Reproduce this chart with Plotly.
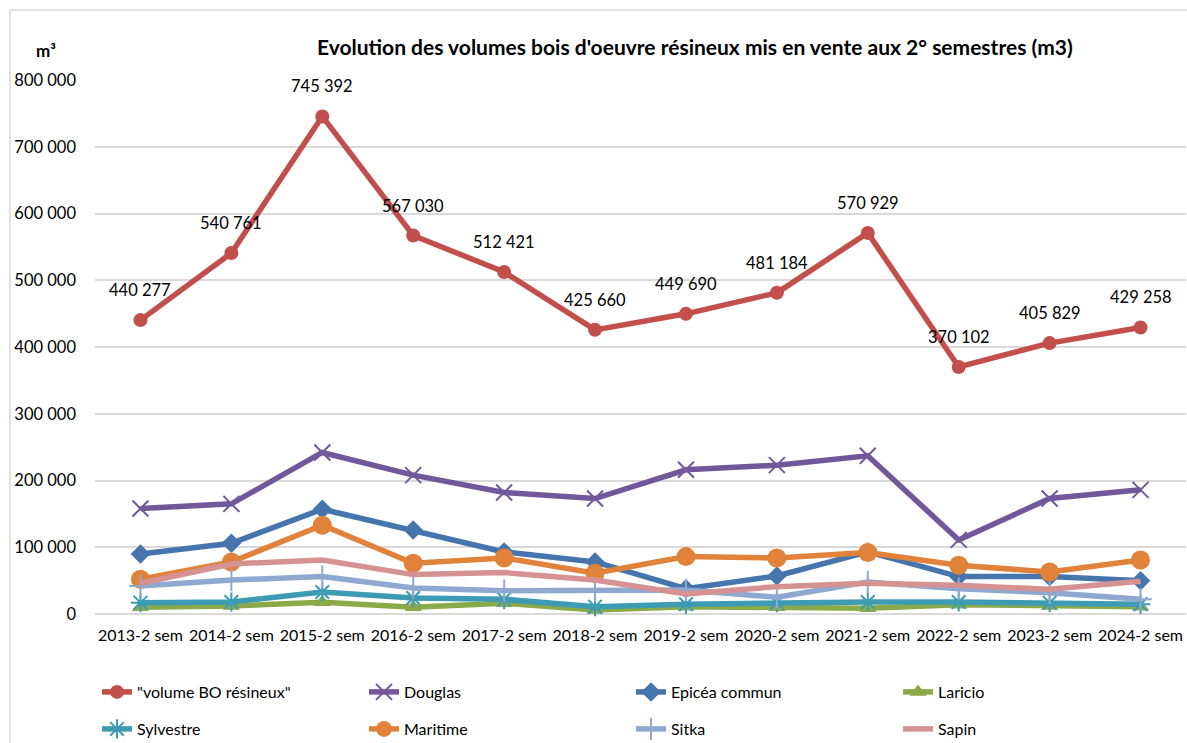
import plotly.graph_objects as go

categories = ["2013-2 sem", "2014-2 sem", "2015-2 sem", "2016-2 sem", "2017-2 sem", "2018-2 sem",
              "2019-2 sem", "2020-2 sem", "2021-2 sem", "2022-2 sem", "2023-2 sem", "2024-2 sem"]

volume_bo = [440277, 540761, 745392, 567030, 512421, 425660, 449690, 481184, 570929, 370102, 405829, 429258]
douglas = [158000, 165000, 242000, 208000, 182000, 173000, 216000, 223000, 237000, 111000, 173000, 186000]
epicea = [90000, 106000, 157000, 126000, 93000, 78000, 38000, 57000, 93000, 56000, 56000, 50000]
laricio = [10000, 12000, 17500, 10000, 16000, 6000, 11000, 10000, 8500, 14000, 12000, 11000]
sylvestre = [17000, 18000, 33000, 24000, 22000, 11000, 14500, 17000, 18000, 18000, 17000, 14500]
maritime = [52000, 78000, 133000, 76000, 84000, 61000, 86000, 84000, 92000, 73000, 63000, 81000]
sitka = [42000, 51000, 56000, 39000, 35000, 35000, 36000, 25000, 48000, 38000, 32000, 22000]
sapin = [46000, 75000, 81000, 59000, 62000, 51000, 30000, 41000, 46000, 43000, 37000, 49000]

series_names = ['"volume BO résineux"', "Douglas", "Epicéa commun", "Laricio",
                "Sylvestre", "Maritime", "Sitka", "Sapin"]
series_values = [volume_bo, douglas, epicea, laricio, sylvestre, maritime, sitka, sapin]
series_colors = ["#C24F4C", "#71589A", "#4674AC", "#8AAA4A", "#3D9BB3", "#E0823A", "#8FA8CF", "#D69293"]
series_symbols = ["circle", "x-thin-open", "diamond", "triangle-up", "asterisk-open", "circle",
                  "cross-thin-open", None]
series_sizes = [14, 16, 15, 15, 16, 19, 16, 0]

FONT = "Lato"
W, H = 1187, 743
ML, MR, MT, MB = 95, 1, 80, 129
PW = W - ML - MR
PH = H - MT - MB

fig = go.Figure()
for i, (name, vals, col, sym, sz) in enumerate(zip(series_names, series_values, series_colors,
                                                   series_symbols, series_sizes)):
    legend = "legend" if i < 4 else "legend2"
    if sym is None:
        mode = "lines"
        marker = None
    else:
        mode = "lines+markers"
        if sym.endswith("-open"):
            marker = dict(symbol=sym, size=sz, color=col, line=dict(color=col, width=2))
        else:
            marker = dict(symbol=sym, size=sz, color=col, line=dict(width=0))
    fig.add_trace(go.Scatter(
        x=categories, y=vals, name=name, mode=mode,
        line=dict(color=col, width=5.5),
        marker=marker, legend=legend, cliponaxis=False,
    ))

# data labels for total series
for c, v in zip(categories, volume_bo):
    fig.add_annotation(x=c, y=v, text=f"{v:,}".replace(",", " "), showarrow=False,
                       yshift=30, font=dict(family=FONT, size=16.5, color="#000000"))

# title and unit
fig.add_annotation(xref="paper", yref="paper", x=(695 - ML) / PW, y=(H - MB - 47) / PH,
                   text="<b>Evolution des volumes bois d'oeuvre résineux mis en vente aux 2° semestres (m3)</b>",
                   showarrow=False, font=dict(family=FONT, size=21, color="#000000"),
                   xanchor="center", yanchor="middle")
fig.add_annotation(xref="paper", yref="paper", x=(46 - ML) / PW, y=(H - MB - 50) / PH,
                   text="<b>m³</b>", showarrow=False, font=dict(family=FONT, size=17, color="#000000"),
                   xanchor="center", yanchor="middle")

# chart border
fig.add_shape(type="rect", xref="paper", yref="paper",
              x0=(10 - ML) / PW, x1=(1200 - ML) / PW,
              y0=(H - MB - 760) / PH, y1=(H - MB - 10) / PH,
              line=dict(color="#D9D9D9", width=1.5), fillcolor="rgba(0,0,0,0)", layer="below")

legend_common = dict(orientation="h", xref="container", yref="container", xanchor="left",
                     yanchor="middle", font=dict(family=FONT, size=16, color="#000000"),
                     entrywidth=222, entrywidthmode="pixels", bgcolor="rgba(0,0,0,0)",
                     itemwidth=30)

fig.update_layout(
    width=W, height=H,
    margin=dict(l=ML, r=MR, t=MT, b=MB, pad=0, autoexpand=False),
    paper_bgcolor="white", plot_bgcolor="white",
    separators=", ",
    font=dict(family=FONT, size=16, color="#000000"),
    showlegend=True,
    legend=dict(x=97 / W, y=1 - 692 / H, **legend_common),
    legend2=dict(x=97 / W, y=1 - 729 / H, **legend_common),
    xaxis=dict(type="category", range=[-0.5, len(categories) - 0.5], showgrid=False,
               showline=False, ticks="", tickangle=0,
               tickfont=dict(family=FONT, size=16, color="#000000"), ticklabelstandoff=10),
    yaxis=dict(range=[0, 800000], dtick=100000, tickformat=",d", showgrid=True,
               gridcolor="#D9D9D9", gridwidth=1.5, zeroline=True, zerolinecolor="#D9D9D9",
               zerolinewidth=1.5, showline=False, ticks="",
               tickfont=dict(family=FONT, size=16.5, color="#000000"), ticklabelstandoff=18),
)

fig.write_html("out.html", config={"displayModeBar": False},
               post_script="document.body.style.margin='0';document.body.style.overflow='hidden';")
